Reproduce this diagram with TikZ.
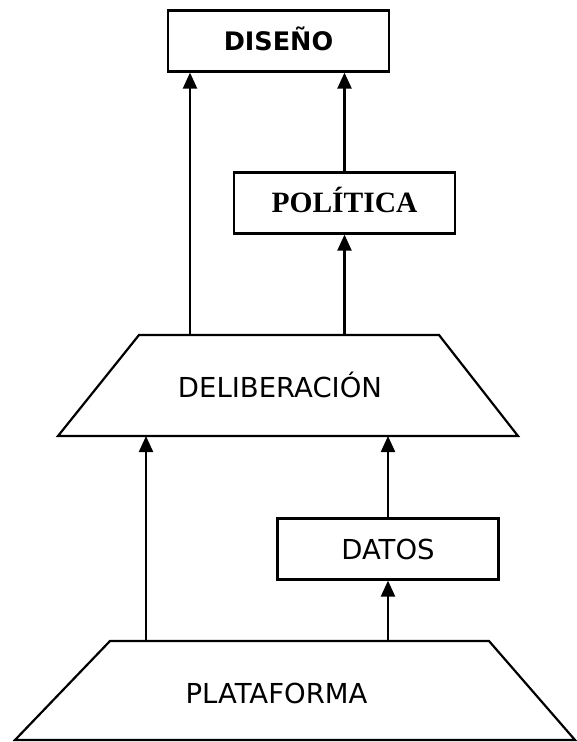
\documentclass[tikz,border=0pt]{standalone}
\usepackage{fontspec}
\usepackage{tikz}
\usetikzlibrary{arrows.meta}
\newfontfamily\sansbox{DejaVu Sans}
\newfontfamily\serifbox{Liberation Serif}
\tikzstyle{mybox} = [draw=black, fill=white, line width=2.2pt,
    rectangle, inner sep=0, minimum width=221pt, minimum height=61pt]
\tikzstyle{mytrap} = [draw=black, fill=white, line width=2.2pt, line join=miter]
\tikzstyle{sanstitle} = [font=\sansbox\fontsize{27.5}{30}\selectfont, text height=20pt, text depth=0pt]
\tikzstyle{myarrow} = [line width=2.2pt, -{Triangle[width=14pt,length=16pt]}]

\begin{document}
\begin{tikzpicture}[x=1pt, y=-1pt]
    \useasboundingbox (0,0) rectangle (576,742);
    % boxes
    \node [mybox, font=\sansbox\bfseries\fontsize{25.5}{28}\selectfont,
        text height=18.6pt, text depth=0pt] (dis) at (278.5,41) {DISEÑO};
    \node [mybox, font=\serifbox\bfseries\fontsize{29.5}{32}\selectfont,
        text height=19.5pt, text depth=0pt] (pol) at (344.5,203) {POLÍTICA};
    \node [mybox, sanstitle] (dat) at (388,549) {DATOS};
    % trapezia
    \draw [mytrap] (58,436) -- (139,335) coordinate (delibtop) -- (439,335) -- (518,436) -- cycle;
    \node [sanstitle, anchor=base] (delib) at (280,397) {DELIBERACIÓN};
    \draw [mytrap] (15,740) -- (110,641) coordinate (plattop) -- (489,641) -- (575,740) -- cycle;
    \node [sanstitle, anchor=base] (plat) at (276.5,703) {PLATAFORMA};
    \coordinate (delibbot) at (58,436);
    % arrows
    \coordinate (upleft) at (190,0);
    \coordinate (lowleft) at (146,0);
    \draw [myarrow] (delibtop -| upleft) -- (dis.south -| upleft);
    \draw [myarrow] (pol.north) -- (dis.south -| pol.north);
    \draw [myarrow] (delibtop -| pol.south) -- (pol.south);
    \draw [myarrow] (plattop -| lowleft) -- (delibbot -| lowleft);
    \draw [myarrow] (dat.north) -- (delibbot -| dat.north);
    \draw [myarrow] (plattop -| dat.south) -- (dat.south);
\end{tikzpicture}
\end{document}
